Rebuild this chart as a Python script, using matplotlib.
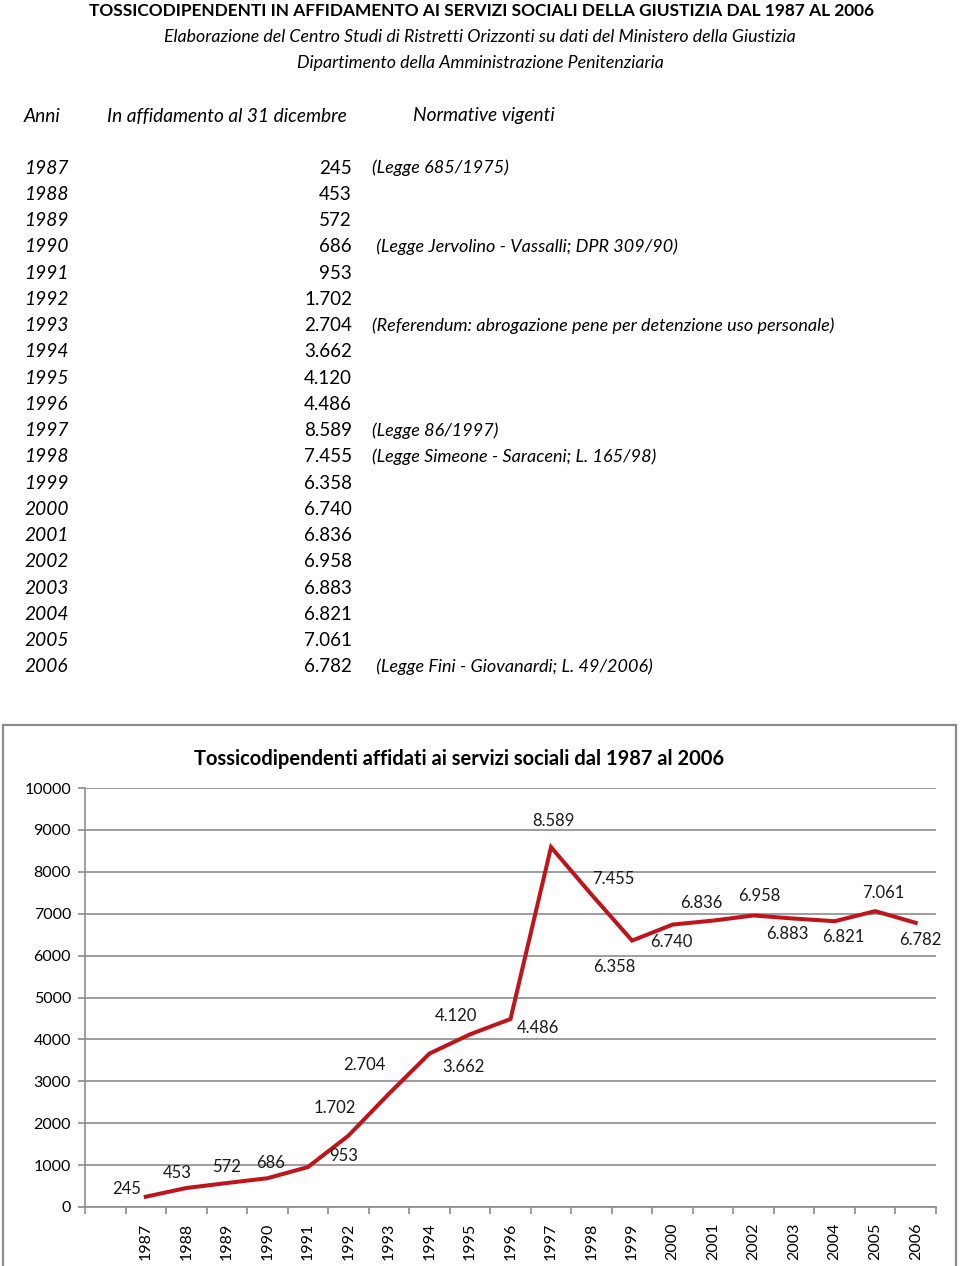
"""Tossicodipendenti in affidamento ai servizi sociali, 1987-2006:
tabella in alto, grafico a linea in basso."""
import matplotlib
matplotlib.use('Agg')
import matplotlib.pyplot as plt
from matplotlib.patches import Rectangle

plt.rcParams['font.family'] = ['Lato', 'DejaVu Sans']

years = ['1987', '1988', '1989', '1990', '1991', '1992', '1993', '1994', '1995', '1996',
         '1997', '1998', '1999', '2000', '2001', '2002', '2003', '2004', '2005', '2006']
values = [245, 453, 572, 686, 953, 1702, 2704, 3662, 4120, 4486,
          8589, 7455, 6358, 6740, 6836, 6958, 6883, 6821, 7061, 6782]
notes = ['(Legge 685/1975)', '', '', ' (Legge Jervolino - Vassalli; DPR 309/90)', '', '',
         '(Referendum: abrogazione pene per detenzione uso personale)', '', '', '',
         '(Legge 86/1997)', '(Legge Simeone - Saraceni; L. 165/98)', '', '', '', '', '', '', '',
         ' (Legge Fini - Giovanardi; L. 49/2006)']

# label offsets in pixels (dx, dy up) for each data label
lab_off = [(-19, 8), (-9, 15), (0, 16), (3, 15), (36, 11), (-14, 28), (-25, 29), (34, -13),
           (-14, 18), (27, -9), (2, 26), (22, 16), (-18, -26), (-1, -17), (-12, 18),
           (6, 19), (-7, -15), (9, -16), (8, 18), (5, -17)]

W, H = 960, 1266
fig = plt.figure(figsize=(W / 100, H / 100), dpi=100)

def fx(x): return x / W
def fy(y): return 1 - y / H

def fmt(v): return f'{v:,}'.replace(',', '.')

# ---- header ----
fig.text(fx(482), fy(11), 'TOSSICODIPENDENTI IN AFFIDAMENTO AI SERVIZI SOCIALI DELLA GIUSTIZIA DAL 1987 AL 2006',
         ha='center', va='center', fontsize=12.4, fontweight='bold')
fig.text(fx(480), fy(37), 'Elaborazione del Centro Studi di Ristretti Orizzonti su dati del Ministero della Giustizia',
         ha='center', va='center', fontsize=12.8, style='italic')
fig.text(fx(480), fy(63), 'Dipartimento della Amministrazione Penitenziaria',
         ha='center', va='center', fontsize=12.8, style='italic')

tkw = dict(va='center', fontsize=13.8, style='italic')
fig.text(fx(24), fy(116), 'Anni', **tkw)
fig.text(fx(107), fy(116), 'In affidamento al 31 dicembre', **tkw)
fig.text(fx(413), fy(116), 'Normative vigenti', **tkw)

row0, step = 168, 26.26
for i, (yr, v, n) in enumerate(zip(years, values, notes)):
    y = row0 + i * step
    fig.text(fx(24), fy(y), yr, **tkw)
    fig.text(fx(352), fy(y), fmt(v), ha='right', va='center', fontsize=13.5)
    if n:
        fig.text(fx(372), fy(y), n, va='center', fontsize=13, style='italic')

# ---- chart box ----
fig.patches.append(Rectangle((fx(3), fy(1275)), fx(953), fy(725) - fy(1275),
                             transform=fig.transFigure, fill=False,
                             edgecolor='#8c8c8c', lw=1.6, clip_on=False))

fig.text(fx(459), fy(759), 'Tossicodipendenti affidati ai servizi sociali dal 1987 al 2006',
         ha='center', va='center', fontsize=14.5, fontweight='bold')

ax = fig.add_axes([fx(85), fy(1207), fx(936 - 85), fy(788) - fy(1207)])
pos = list(range(1, len(years) + 1))
ax.plot(pos, values, color='#c0141c', lw=2.9, solid_joinstyle='miter')
ax.set_xlim(-0.5, len(years) + 0.5)
ax.set_ylim(0, 10000)
ax.set_yticks(range(0, 10001, 1000))
ax.grid(True, axis='y', color='#8c8c8c', lw=1.2)
ax.set_axisbelow(True)
for s in ['top', 'right']:
    ax.spines[s].set_visible(False)
for s in ['left', 'bottom']:
    ax.spines[s].set_color('#8c8c8c')
    ax.spines[s].set_linewidth(1.2)
ax.set_xticks(pos)
ax.set_xticklabels(years, rotation=90, fontsize=11.5)
ax.set_xticks([p - 0.5 for p in range(0, len(years) + 2)], minor=True)
ax.tick_params(axis='x', which='major', length=0, pad=11.5)
ax.tick_params(axis='x', which='minor', length=5, color='#8c8c8c', width=1.2)
ax.tick_params(axis='y', length=5, color='#8c8c8c', width=1.2, labelsize=11.5, pad=5)

for p, v, (dx, dy) in zip(pos, values, lab_off):
    ax.annotate(fmt(v), (p, v), xytext=(dx * 0.72, dy * 0.72), textcoords='offset points',
                ha='center', va='center', fontsize=12, color='#1a1a1a')

fig.savefig('out.png', dpi=100)
print('ok')
